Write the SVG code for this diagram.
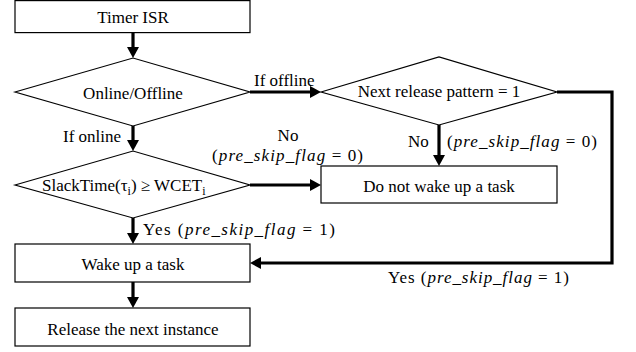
<svg xmlns="http://www.w3.org/2000/svg" width="636" height="352" viewBox="0 0 636 352">
<style>
.box{fill:#fff;stroke:#000;stroke-width:1.2}
.c{text-anchor:middle}
.conn{fill:none;stroke:#000;stroke-width:3.2}
text{font-family:"Liberation Serif","Times New Roman",serif;font-size:17px;fill:#000}
</style>
<defs>
<marker id="ah" markerUnits="userSpaceOnUse" markerWidth="11" markerHeight="12" refX="0" refY="6" orient="auto" viewBox="0 0 11 12">
<path d="M0,0 L11,6 L0,12 z" fill="#000"/>
</marker>
</defs>
<rect width="636" height="352" fill="#fff"/>
<g id="n-timer"><rect class="box" x="15" y="0.6" width="235" height="32"/><text class="c" x="133" y="23">Timer ISR</text></g>
<g id="n-online"><polygon class="box" points="15,92 133,58 250,92 133,126"/><text class="c" x="133" y="99">Online/Offline</text></g>
<g id="n-next"><polygon class="box" points="321,92 439,57 557,92 439,125"/><text class="c" x="439" y="97">Next release pattern = 1</text></g>
<g id="n-slack"><polygon class="box" points="15,185 133,151 250,185 133,218"/><text x="42" y="191">SlackTime(τ<tspan font-size="12" dy="4">i</tspan><tspan dy="-4">) ≥ WCET</tspan><tspan font-size="12" dy="4">i</tspan></text></g>
<g id="n-donot"><rect class="box" x="321" y="166" width="236" height="37"/><text class="c" x="439" y="192">Do not wake up a task</text></g>
<g id="n-wake"><rect class="box" x="15" y="244" width="235" height="38"/><text class="c" x="133" y="270">Wake up a task</text></g>
<g id="n-release"><rect class="box" x="15" y="308" width="235" height="38"/><text class="c" x="133" y="335">Release the next instance</text></g>
<g id="connectors">
<path class="conn" d="M133,33 V47" marker-end="url(#ah)"/>
<path class="conn" d="M250,92 H310" marker-end="url(#ah)"/>
<path class="conn" d="M133,126 V140" marker-end="url(#ah)"/>
<path class="conn" d="M439,125 V155" marker-end="url(#ah)"/>
<path class="conn" d="M250,185 H310" marker-end="url(#ah)"/>
<path class="conn" d="M133,218 V233" marker-end="url(#ah)"/>
<path class="conn" d="M133,282 V297" marker-end="url(#ah)"/>
<path class="conn" d="M557,92 H612 V263 H261" marker-end="url(#ah)"/>
</g>
<g id="labels">
<text x="254" y="86">If offline</text>
<text x="63" y="142">If online</text>
<text class="c" x="288" y="141">No</text>
<text x="212" y="161" textLength="151" lengthAdjust="spacing">(<tspan font-style="italic">pre_skip_flag</tspan> = 0)</text>
<text x="408" y="147">No</text>
<text x="447" y="147" textLength="150" lengthAdjust="spacing">(<tspan font-style="italic">pre_skip_flag</tspan> = 0)</text>
<text x="143" y="235" textLength="192" lengthAdjust="spacing">Yes (<tspan font-style="italic">pre_skip_flag</tspan> = 1)</text>
<text x="388" y="283" textLength="181" lengthAdjust="spacing">Yes (<tspan font-style="italic">pre_skip_flag</tspan> = 1)</text>
</g>
</svg>
